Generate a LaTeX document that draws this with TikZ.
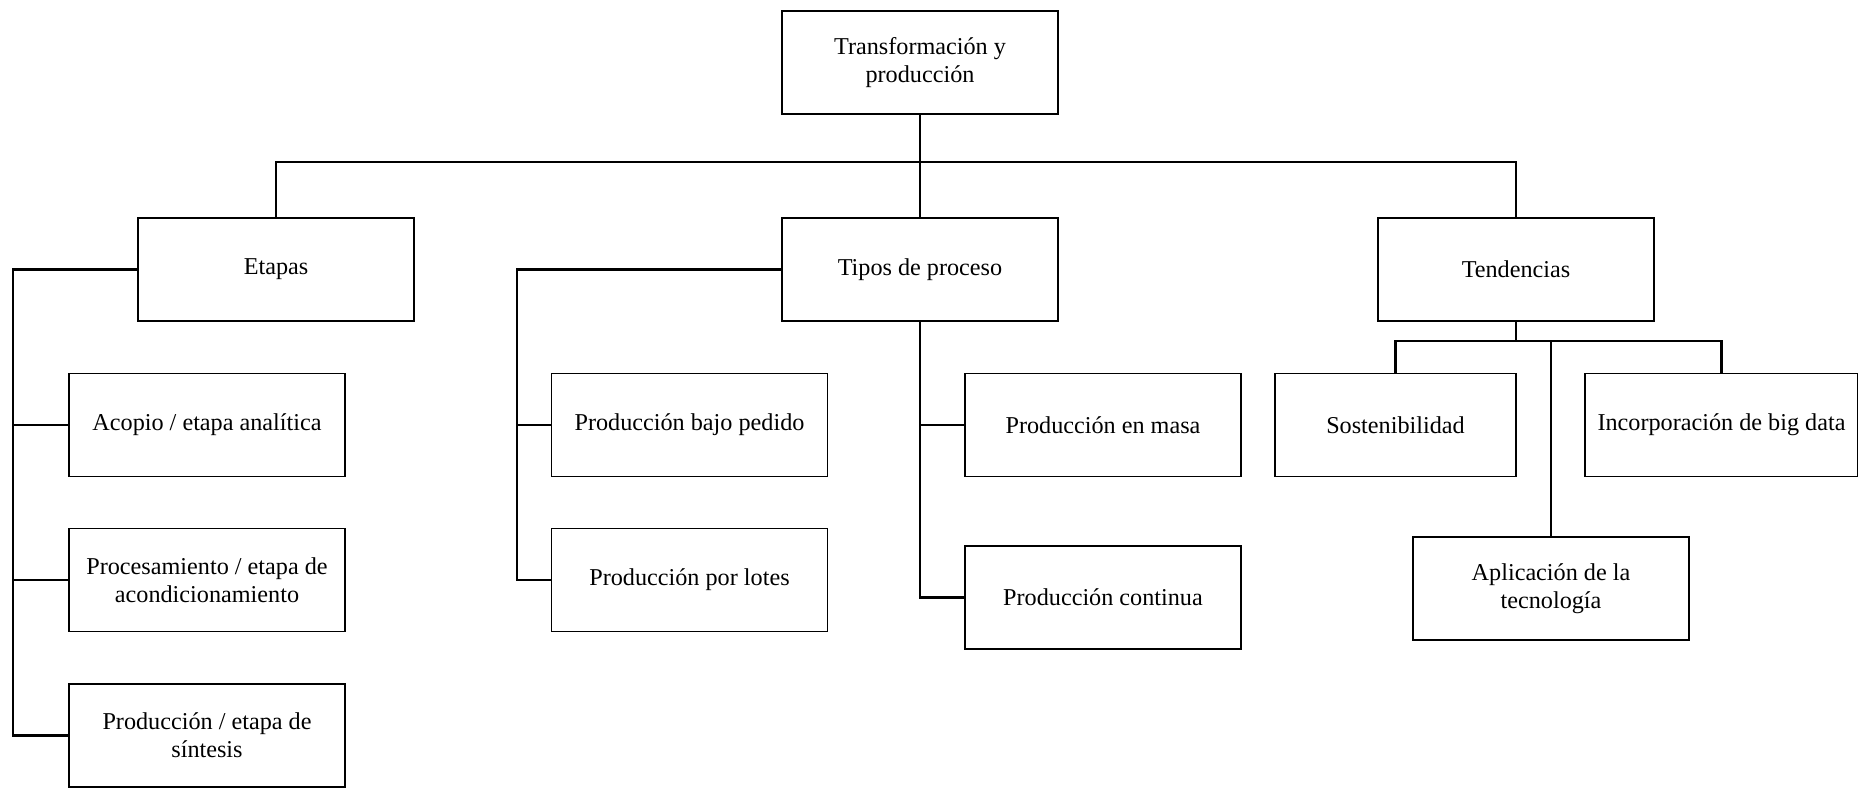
\documentclass[tikz,border=0pt]{standalone}
\usepackage{fontspec}
\setmainfont{Liberation Serif}
\usepackage{tikz}
\usetikzlibrary{positioning}

\tikzset{
box/.style={draw,line width=0.7pt,minimum width=138pt,minimum height=51.5pt,inner sep=1pt,align=center,font=\fontsize{12.1}{14}\selectfont},
link/.style={line width=1.1pt}
}

\begin{document}
\begin{tikzpicture}[x=0.5pt,y=-0.5pt]
\useasboundingbox(0,0)rectangle(1858,788);
\node[box](root)at(920,62.5){Transformación y\\producción};
\node[box](etapas)at(276,269.5){Etapas};
\node[box](tipos)at(920,269.5){Tipos de proceso};
\node[box](tend)at(1516,269.5){Tendencias};
\node[box](acopio)at(207,425){Acopio / etapa analítica};
\node[box](proc)at(207,580){Procesamiento / etapa de\\acondicionamiento};
\node[box](sint)at(207,735.5){Producción / etapa de\\síntesis};
\node[box](pedido)at(689.5,425){Producción bajo pedido};
\node[box](lotes)at(689.5,580){Producción por lotes};
\node[box](masa)at(1103,425){Producción en masa};
\node[box](cont)at(1103,597.5){Producción continua};
\node[box,minimum width=120.5pt](sost)at(1395.5,425){Sostenibilidad};
\node[box,minimum width=136.5pt](bigd)at(1721.5,425){Incorporación de big data};
\node[box](apli)at(1551,588.5){Aplicación de la\\tecnología};
\coordinate(bus)at(920,162);
\coordinate(eL)at(13,269.5);
\coordinate(tL)at(517,269.5);
\coordinate(tB)at(1516,341);
%
\draw[link](etapas.north)|-(bus)-|(tend.north);
\draw[line width=0.8pt](root.south)--(tipos.north);
\draw[link](etapas.west)--(eL)|-(sint.west);
\draw[link](eL|-acopio.west)--(acopio.west);
\draw[link](eL|-proc.west)--(proc.west);
\draw[link](tipos.west)--(tL)|-(lotes.west);
\draw[link](tL|-pedido.west)--(pedido.west);
\draw[link](tipos.south)|-(cont.west);
\draw[link](tipos.south|-masa.west)--(masa.west);
\draw[link](tend.south)--(tB);
\draw[link](sost.north)|-(tB)-|(bigd.north);
\draw[link](apli.north)--(apli.north|-tB);
\end{tikzpicture}
\end{document}
